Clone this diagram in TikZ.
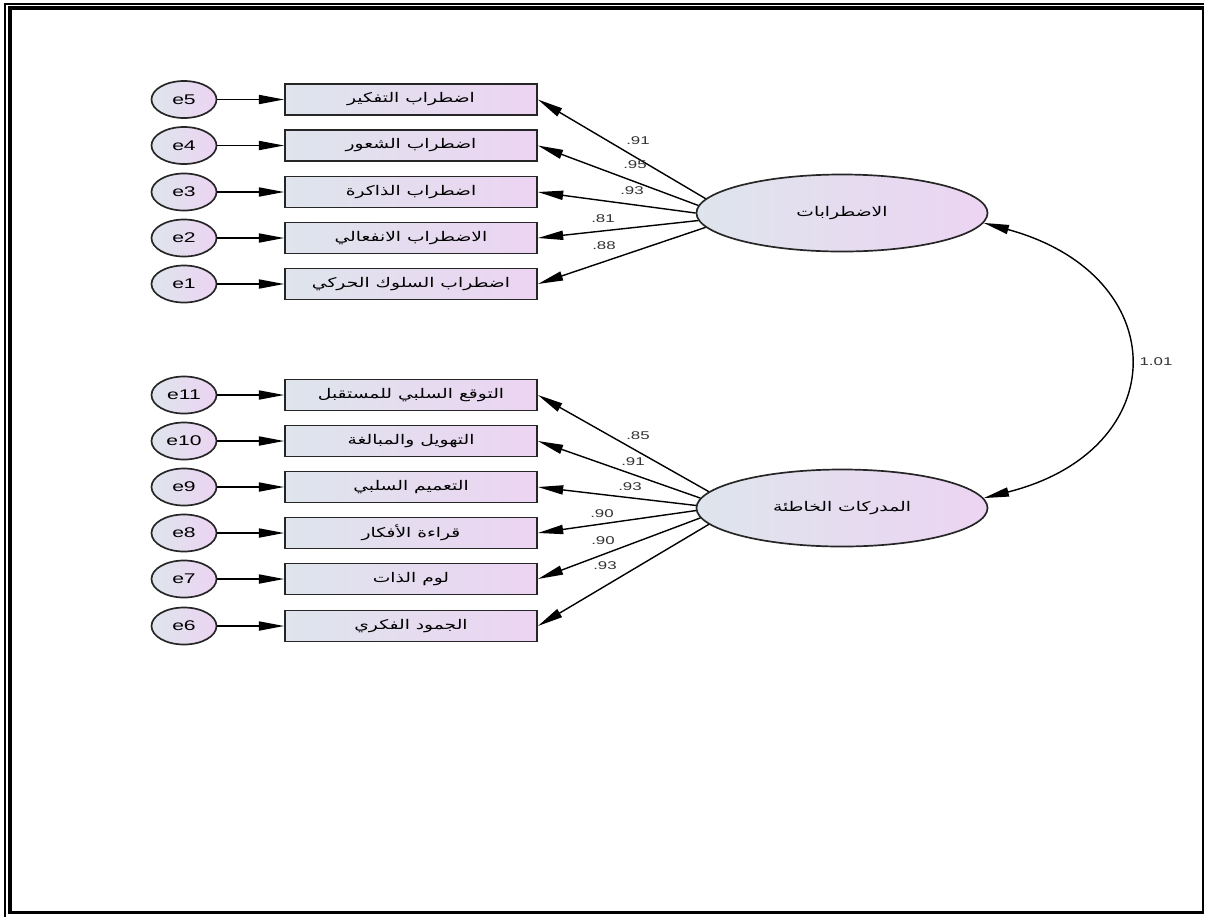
\documentclass[tikz,border=0pt]{standalone}
\usepackage{fontspec}
\setmainfont[FakeStretch=1.5]{Liberation Sans}
\newfontfamily\arabicfont[Script=Arabic,FakeStretch=1.4]{DejaVu Sans}
\TeXXeTstate=1
\usetikzlibrary{shapes.geometric}
\usetikzlibrary{arrows.meta}

\definecolor{shadeL}{RGB}{222,229,236}
\definecolor{shadeR}{RGB}{236,212,242}
\newcommand{\artext}[1]{{\arabicfont\beginR #1\endR}}

\tikzset{
    errnode/.style={ellipse, draw=black!85, line width=1.2pt, left color=shadeL, right color=shadeR,
        minimum width=1.625cm, minimum height=0.925cm, inner sep=0pt, font=\fontsize{10}{12}\selectfont},
    itembox/.style={rectangle, draw=black!85, line width=1.2pt, left color=shadeL, right color=shadeR,
        minimum width=6.3cm, minimum height=0.775cm, inner sep=0pt, font=\fontsize{9.5}{11}\selectfont},
    latent/.style={ellipse, draw=black!85, line width=1.2pt, left color=shadeL, right color=shadeR,
        minimum width=7.275cm, minimum height=1.925cm, inner sep=0pt, font=\fontsize{9.5}{11}\selectfont},
    loading/.style={draw, line width=1pt, -{Triangle[length=18pt,width=6.5pt]}},
    covar/.style={draw, line width=1pt, {Triangle[length=18pt,width=6.5pt]}-{Triangle[length=18pt,width=6.5pt]}},
    coef/.style={font=\fontsize{8}{10}\selectfont, inner sep=1pt, text=black!80},
}

\begin{document}
\begin{tikzpicture}[x=0.025cm, y=-0.025cm]
    \useasboundingbox (0,0) rectangle (1205,917);

    %%% Page frame %%%
    \draw[line width=1.4pt] (5,917) -- (5,4) -- (1204,4);
    \draw[line width=2.8pt] (10,914) -- (10,8) -- (1204,8);
    \draw[line width=2.2pt] (10,912.5) -- (1203,912.5);
    \draw[line width=1.1pt] (1203,8) -- (1203,914);

    %%% Latent factors %%%
    \node[latent] (dis) at (842,213) {\artext{الاضطرابات}};
    \node[latent] (cog) at (842,508) {\artext{المدركات الخاطئة}};

    %%% First factor: indicators %%%
    \node[itembox] (b5) at (411,99.5) {\artext{اضطراب التفكير}};        % 5
    \node[itembox] (b4) at (411,145.5) {\artext{اضطراب الشعور}};        % 4
    \node[itembox] (b3) at (411,192) {\artext{اضطراب الذاكرة}};         % 3
    \node[itembox] (b2) at (411,238) {\artext{الاضطراب الانفعالي}};     % 2
    \node[itembox] (b1) at (411,284) {\artext{اضطراب السلوك الحركي}};   % 1
    % Errors
    \node[errnode] (e5) at (184,99.5) {e5};
    \node[errnode] (e4) at (184,145.5) {e4};
    \node[errnode] (e3) at (184,192) {e3};
    \node[errnode] (e2) at (184,238) {e2};
    \node[errnode] (e1) at (184,284) {e1};

    %%% Second factor: indicators %%%
    \node[itembox] (b11) at (411,395) {\artext{التوقع السلبي للمستقبل}}; % 11
    \node[itembox] (b10) at (411,441) {\artext{التهويل والمبالغة}};      % 10
    \node[itembox] (b9) at (411,487) {\artext{التعميم السلبي}};          % 9
    \node[itembox] (b8) at (411,533) {\artext{قراءة الأفكار}};           % 8
    \node[itembox] (b7) at (411,579) {\artext{لوم الذات}};               % 7
    \node[itembox] (b6) at (411,626) {\artext{الجمود الفكري}};           % 6
    % Errors
    \node[errnode] (e11) at (184,395) {e11};
    \node[errnode] (e10) at (184,441) {e10};
    \node[errnode] (e9) at (184,487) {e9};
    \node[errnode] (e8) at (184,533) {e8};
    \node[errnode] (e7) at (184,579) {e7};
    \node[errnode] (e6) at (184,626) {e6};

    %%% Error paths %%%
    \draw[loading] (e5) -- (b5);
    \draw[loading] (e4) -- (b4);
    \draw[loading] (e3) -- (b3);
    \draw[loading] (e2) -- (b2);
    \draw[loading] (e1) -- (b1);
    \draw[loading] (e11) -- (b11);
    \draw[loading] (e10) -- (b10);
    \draw[loading] (e9) -- (b9);
    \draw[loading] (e8) -- (b8);
    \draw[loading] (e7) -- (b7);
    \draw[loading] (e6) -- (b6);

    %%% Loadings %%%
    \draw[loading] (dis.174) -- (b5.east);
    \draw[loading] (dis.177) -- (b4.east);
    \draw[loading] (dis.180) -- (b3.east);
    \draw[loading] (dis.183) -- (b2.east);
    \draw[loading] (dis.186) -- (b1.east);
    \draw[loading] (cog.173) -- (b11.east);
    \draw[loading] (cog.176) -- (b10.east);
    \draw[loading] (cog.179) -- (b9.east);
    \draw[loading] (cog.181) -- (b8.east);
    \draw[loading] (cog.184) -- (b7.east);
    \draw[loading] (cog.187) -- (b6.east);

    % values
    \node[coef] (w5) at (638,141) {.91};
    \node[coef] (w4) at (635,165) {.95};
    \node[coef] (w3) at (632,191) {.93};
    \node[coef] (w2) at (603,219) {.81};
    \node[coef] (w1) at (604,246) {.88};
    \node[coef] (w11) at (638,436) {.85};
    \node[coef] (w10) at (633,462) {.91};
    \node[coef] (w9) at (630,487) {.93};
    \node[coef] (w8) at (602,514) {.90};
    \node[coef] (w7) at (603,541) {.90};
    \node[coef] (w6) at (605,566) {.93};

    %%% Covariance %%%
    \draw[covar] (dis.-4) .. controls (1175,275) and (1175,450) .. (cog.4);
    \node[coef] (r12) at (1156,362) {1.01};
\end{tikzpicture}
\end{document}
